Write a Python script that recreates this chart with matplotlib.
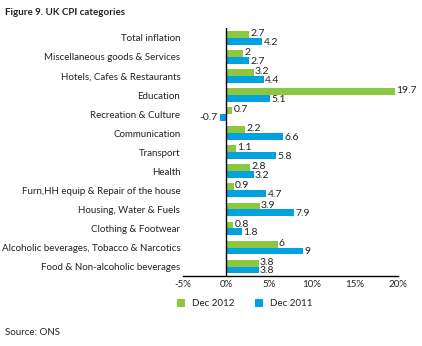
import numpy as np
import matplotlib.pyplot as plt

categories = ['Total inflation', 'Miscellaneous goods & Services',
              'Hotels, Cafes & Restaurants', 'Education',
              'Recreation & Culture', 'Communication', 'Transport', 'Health',
              'Furn,HH equip & Repair of the house', 'Housing, Water & Fuels',
              'Clothing & Footwear', 'Alcoholic beverages, Tobacco & Narcotics',
              'Food & Non-alcoholic beverages']
dec_2012 = [2.7, 2, 3.2, 19.7, 0.7, 2.2, 1.1, 2.8, 0.9, 3.9, 0.8, 6, 3.8]
dec_2011 = [4.2, 2.7, 4.4, 5.1, -0.7, 6.6, 5.8, 3.2, 4.7, 7.9, 1.8, 9, 3.8]
x_ticks = [-5, 0, 5, 10, 15, 20]

green = '#8dc63f'
blue = '#00a3e0'
txt = '#222222'

plt.rcParams['font.family'] = ['Lato', 'DejaVu Sans']

fig = plt.figure(figsize=(4.22, 3.46), dpi=100)
ax = fig.add_axes([0.434, 0.202, 0.509, 0.716])

y = np.arange(len(categories))
h = 0.36
ax.barh(y - h / 2, dec_2012, height=h, color=green, label='Dec 2012')
ax.barh(y + h / 2, dec_2011, height=h, color=blue, label='Dec 2011')

for yi, v in zip(y, dec_2012):
    ax.text(v + 0.15, yi - h / 2 - 0.05, f'{v:g}', fontsize=7.5, color=txt,
            va='center', ha='left')
for yi, v in zip(y, dec_2011):
    if v < 0:
        ax.text(v - 0.3, yi + h / 2, f'{v:g}', fontsize=7.5, color=txt,
                va='center', ha='right')
    else:
        ax.text(v + 0.15, yi + h / 2 + 0.05, f'{v:g}', fontsize=7.5, color=txt,
                va='center', ha='left')

ax.set_xlim(-5, 20)
ax.set_ylim(len(categories) - 0.5, -0.5)
ax.set_xticks(x_ticks)
ax.set_xticklabels([f'{t}%' for t in x_ticks])
ax.set_yticks(y)
ax.set_yticklabels(categories)
ax.tick_params(axis='both', length=0, labelsize=7, colors=txt)
ax.tick_params(axis='y', pad=2)
ax.tick_params(axis='x', pad=3)
for s in ['top', 'right', 'left']:
    ax.spines[s].set_visible(False)
ax.spines['bottom'].set_color('black')
ax.spines['bottom'].set_linewidth(1)
ax.axvline(0, color='black', lw=1)

fig.text(0.012, 0.978, 'Figure 9. UK CPI categories', fontsize=7,
         fontweight='bold', color=txt, va='top', ha='left')
fig.legend(loc='center', bbox_to_anchor=(0.58, 0.122), ncol=2, frameon=False,
           fontsize=7, handlelength=0.8, handleheight=0.8, columnspacing=2.2,
           handletextpad=0.7, labelcolor=txt)
fig.text(0.012, 0.038, 'Source: ONS', fontsize=7, color=txt,
         va='center', ha='left')

fig.savefig('out.png', dpi=100)
